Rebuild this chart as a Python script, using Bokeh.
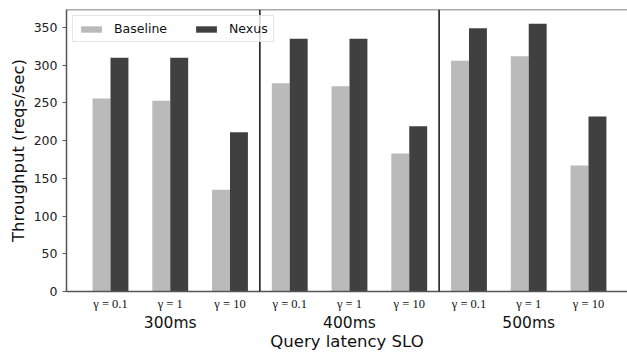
from bokeh.plotting import figure
from bokeh.models import (Range1d, FixedTicker, LinearAxis, Span, Legend, LegendItem,
                          ColumnDataSource)
from bokeh.embed import file_html
from bokeh.resources import INLINE

# ---- data ----
slos = ["300ms", "400ms", "500ms"]
gammas = ["γ = 0.1", "γ = 1", "γ = 10"]
baseline = [256, 253, 135, 276, 272, 183, 306, 312, 167]
nexus = [310, 310, 211, 335, 335, 219, 349, 355, 232]
y_ticks = [0, 50, 100, 150, 200, 250, 300, 350]

n_groups = len(slos)
n_per = len(gammas)
n = n_groups * n_per
pos = list(range(n))
bw = 0.3

src_b = ColumnDataSource(dict(x=[p - bw / 2 for p in pos], top=baseline))
src_n = ColumnDataSource(dict(x=[p + bw / 2 for p in pos], top=nexus))

y_max = 373.9
p = figure(width=627, height=354, output_backend="svg", toolbar_location=None,
           title=None,
           x_range=Range1d(-0.7364, 8.653), y_range=Range1d(0, y_max),
           min_border_left=66, min_border_right=0, min_border_top=9, min_border_bottom=63,
           x_axis_location=None, y_axis_location=None)
p.xgrid.visible = False
p.ygrid.visible = False
p.outline_line_color = None
p.background_fill_color = "white"
p.border_fill_color = "white"

rb = p.vbar(x="x", top="top", width=bw, source=src_b, fill_color="#bababa", line_color=None)
rn = p.vbar(x="x", top="top", width=bw, source=src_n, fill_color="#404040", line_color=None)

spine = "#555555"
FONT = "DejaVu Sans"

# y axis
ya = LinearAxis(ticker=FixedTicker(ticks=y_ticks), axis_label="Throughput (reqs/sec)")
ya.axis_line_color = spine
ya.axis_line_width = 1.5
ya.major_tick_line_color = spine
ya.major_tick_out = 4
ya.major_tick_in = 0
ya.minor_tick_line_color = None
ya.major_label_text_font = FONT
ya.major_label_text_font_size = "12.5px"
ya.major_label_text_color = "#222222"
ya.major_label_standoff = 5
ya.axis_label_text_font = FONT
ya.axis_label_text_font_size = "16.5px"
ya.axis_label_text_font_style = "normal"
ya.axis_label_text_color = "#111111"
ya.axis_label_standoff = 3
p.add_layout(ya, "left")

# x axis: gamma labels
xa = LinearAxis(ticker=FixedTicker(ticks=pos))
xa.major_label_overrides = {i: gammas[i % n_per] for i in pos}
xa.axis_line_color = spine
xa.axis_line_width = 1.5
xa.major_tick_line_color = None
xa.major_tick_out = 0
xa.major_tick_in = 0
xa.minor_tick_line_color = None
xa.major_label_text_font = "Liberation Serif"
xa.major_label_text_font_size = "12.5px"
xa.major_label_text_color = "#111111"
xa.major_label_standoff = 5
p.add_layout(xa, "below")

# x axis: SLO group labels
centers = [g * n_per + (n_per - 1) / 2 for g in range(n_groups)]
xa2 = LinearAxis(ticker=FixedTicker(ticks=centers), axis_label="Query latency SLO")
xa2.major_label_overrides = {c: slos[i] for i, c in enumerate(centers)}
xa2.axis_line_color = None
xa2.major_tick_line_color = None
xa2.major_tick_out = 0
xa2.major_tick_in = 0
xa2.minor_tick_line_color = None
xa2.major_label_text_font = FONT
xa2.major_label_text_font_size = "15.5px"
xa2.major_label_text_color = "#111111"
xa2.major_label_standoff = 0
xa2.axis_label_text_font = FONT
xa2.axis_label_text_font_size = "16.5px"
xa2.axis_label_text_font_style = "normal"
xa2.axis_label_text_color = "#111111"
xa2.axis_label_standoff = -3
p.add_layout(xa2, "below")

# group separators
for g in range(1, n_groups):
    p.add_layout(Span(location=g * n_per - 0.5, dimension="height",
                      line_color="#111111", line_width=1.5))
# top spine
p.add_layout(Span(location=y_max, dimension="width", line_color=spine, line_width=1.5))

legend = Legend(items=[LegendItem(label="Baseline", renderers=[rb]),
                       LegendItem(label="Nexus", renderers=[rn])],
                location="top_left", orientation="horizontal")
legend.margin = 6
legend.padding = 5
legend.spacing = 26
legend.glyph_width = 26
legend.glyph_height = 8
legend.label_height = 12
legend.label_standoff = 10
legend.label_text_font = FONT
legend.label_text_font_size = "12.5px"
legend.label_text_color = "#111111"
legend.border_line_color = "#cccccc"
legend.border_line_width = 1
legend.background_fill_alpha = 0.8
p.add_layout(legend, "center")

open("out.html", "w").write(file_html(p, INLINE))
